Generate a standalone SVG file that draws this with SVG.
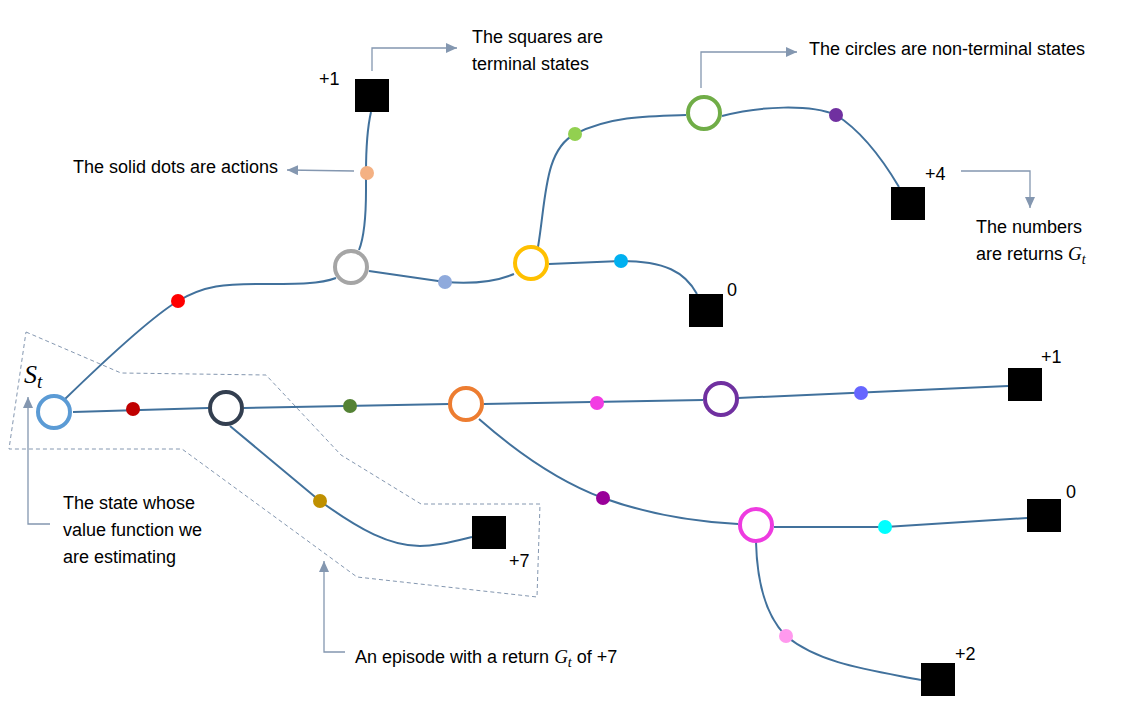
<svg xmlns="http://www.w3.org/2000/svg" width="1121" height="711" viewBox="0 0 1121 711">
<defs>
<marker id="ah" markerUnits="userSpaceOnUse" markerWidth="12" markerHeight="10" refX="11" refY="5" orient="auto">
<path d="M0,0 L11,5 L0,10 Z" fill="#8497B0"/>
</marker>
<style>
.bg{fill:#FFFFFF}
.edge{fill:none;stroke:#41719C;stroke-width:2}
.state{fill:#FFFFFF;stroke-width:4}
.term{fill:#000000}
.call{fill:none;stroke:#8497B0;stroke-width:1.3}
.arrow{fill:none;stroke:#8497B0;stroke-width:1.3;marker-end:url(#ah)}
.dash{fill:none;stroke:#8497B0;stroke-width:1;stroke-dasharray:4 3}
.t{font-family:"Liberation Sans",Arial,sans-serif;font-size:18px;fill:#000000}
.m{font-family:"Liberation Serif","Times New Roman",serif;font-style:italic;fill:#000000}
</style>
</defs>
<rect class="bg" x="0" y="0" width="1121" height="711"/>

<g id="episode-outline">
<path class="dash" d="M26,332 L121,373 L266,375 L341,455 L421,504 L540,504 L537,597 L357,577 L182,449 L9,449 Z"/>
</g>

<g id="connectors">
<path class="edge" d="M64,400 C100,365 150,318 178,301 C205,285 225,284 260,284 C300,284 320,284 336,278"/>
<path class="edge" d="M359,250 C365,235 366,215 366,190 L366,173 C366,145 368,125 371,112"/>
<path class="edge" d="M369,271 L445,282 C470,284 495,282 514,274"/>
<path class="edge" d="M538,247 C546,200 544,150 575,134 C610,116 650,116 686,115"/>
<path class="edge" d="M722,116 C760,106 810,104 836,115 C860,130 880,155 899,187"/>
<path class="edge" d="M549,264 L621,261 C665,261 685,272 697,294"/>
<path class="edge" d="M73,412 L208,408"/>
<path class="edge" d="M244,408 L449,404"/>
<path class="edge" d="M484,404 L703,400"/>
<path class="edge" d="M738,398 L1008,386"/>
<path class="edge" d="M230,426 L320,501 C360,530 390,546 420,546 C440,546 460,540 472,537"/>
<path class="edge" d="M479,419 C520,455 560,482 603,498 C650,515 700,522 738,524"/>
<path class="edge" d="M774,527 L885,527 L1027,518"/>
<path class="edge" d="M756,542 C757,580 765,615 786,636 C820,664 870,670 921,680"/>
</g>

<g id="callouts">
<path class="arrow" d="M372,71 L372,48 L457,48"/>
<path class="arrow" d="M701,88 L701,52 L797,52"/>
<path class="arrow" d="M354,171 L287,170"/>
<path class="arrow" d="M961,171 L1030,171 L1030,208"/>
<path class="arrow" d="M50,524 L28,524 L28,397"/>
<path class="arrow" d="M345,652 L324,652 L324,561"/>
</g>

<g id="s-st"><circle class="state" cx="54" cy="412" r="16" stroke="#5B9BD5"/></g>
<g id="s-dark"><circle class="state" cx="226" cy="408" r="16" stroke="#333F50"/></g>
<g id="s-orange"><circle class="state" cx="466" cy="404" r="16" stroke="#ED7D31"/></g>
<g id="s-purple"><circle class="state" cx="721" cy="399" r="16" stroke="#7030A0"/></g>
<g id="s-magenta"><circle class="state" cx="756" cy="525" r="16" stroke="#EE3BE0"/></g>
<g id="s-gray"><circle class="state" cx="351" cy="267" r="16" stroke="#A5A5A5"/></g>
<g id="s-yellow"><circle class="state" cx="531" cy="263" r="16" stroke="#FFC000"/></g>
<g id="s-green"><circle class="state" cx="704" cy="113" r="16" stroke="#70AD47"/></g>

<g id="a-red"><circle cx="178" cy="301" r="7" fill="#FF0000"/></g>
<g id="a-peach"><circle cx="367" cy="173" r="7" fill="#F4B183"/></g>
<g id="a-lightblue"><circle cx="445" cy="282" r="7" fill="#8FAADC"/></g>
<g id="a-skyblue"><circle cx="621" cy="261" r="7" fill="#00B0F0"/></g>
<g id="a-lightgreen"><circle cx="575" cy="134" r="7" fill="#92D050"/></g>
<g id="a-purple"><circle cx="836" cy="115" r="7" fill="#7030A0"/></g>
<g id="a-darkred"><circle cx="133" cy="409" r="7" fill="#C00000"/></g>
<g id="a-darkgreen"><circle cx="350" cy="406" r="7" fill="#548235"/></g>
<g id="a-magenta"><circle cx="597" cy="403" r="7" fill="#F23CE3"/></g>
<g id="a-violet"><circle cx="861" cy="393" r="7" fill="#6666FF"/></g>
<g id="a-gold"><circle cx="320" cy="501" r="7" fill="#BF9000"/></g>
<g id="a-darkmagenta"><circle cx="603" cy="498" r="7" fill="#990099"/></g>
<g id="a-cyan"><circle cx="885" cy="527" r="7" fill="#00FFFF"/></g>
<g id="a-pink"><circle cx="786" cy="636" r="7" fill="#FF99EE"/></g>

<g id="t-top"><rect class="term" x="355" y="79" width="34" height="33"/><text class="t" x="319" y="85">+1</text></g>
<g id="t-zero1"><rect class="term" x="689" y="294" width="34" height="33"/><text class="t" x="727" y="296">0</text></g>
<g id="t-four"><rect class="term" x="891" y="187" width="34" height="33"/><text class="t" x="925" y="180">+4</text></g>
<g id="t-seven"><rect class="term" x="472" y="516" width="34" height="33"/><text class="t" x="509" y="567">+7</text></g>
<g id="t-one"><rect class="term" x="1008" y="368" width="34" height="33"/><text class="t" x="1041" y="363">+1</text></g>
<g id="t-zero2"><rect class="term" x="1027" y="499" width="34" height="33"/><text class="t" x="1066" y="498">0</text></g>
<g id="t-two"><rect class="term" x="921" y="663" width="34" height="33"/><text class="t" x="955" y="660">+2</text></g>

<g id="label-st"><text class="m" x="24" y="383" font-size="26">S<tspan font-size="19" dy="5">t</tspan></text></g>
<g id="label-squares"><text class="t" x="472" y="43">The squares are</text><text class="t" x="472" y="70">terminal states</text></g>
<g id="label-circles"><text class="t" x="809" y="55">The circles are non-terminal states</text></g>
<g id="label-dots"><text class="t" x="73" y="173">The solid dots are actions</text></g>
<g id="label-numbers"><text class="t" x="976" y="233">The numbers</text><text class="t" x="976" y="260">are returns <tspan class="m" font-size="19">G</tspan><tspan class="m" font-size="14" dy="4">t</tspan></text></g>
<g id="label-state"><text class="t" x="63" y="509">The state whose</text><text class="t" x="63" y="536">value function we</text><text class="t" x="63" y="563">are estimating</text></g>
<g id="label-episode"><text class="t" x="355" y="663">An episode with a return <tspan class="m" font-size="19">G</tspan><tspan class="m" font-size="14" dy="4">t</tspan><tspan dy="-4"> of +7</tspan></text></g>
</svg>
